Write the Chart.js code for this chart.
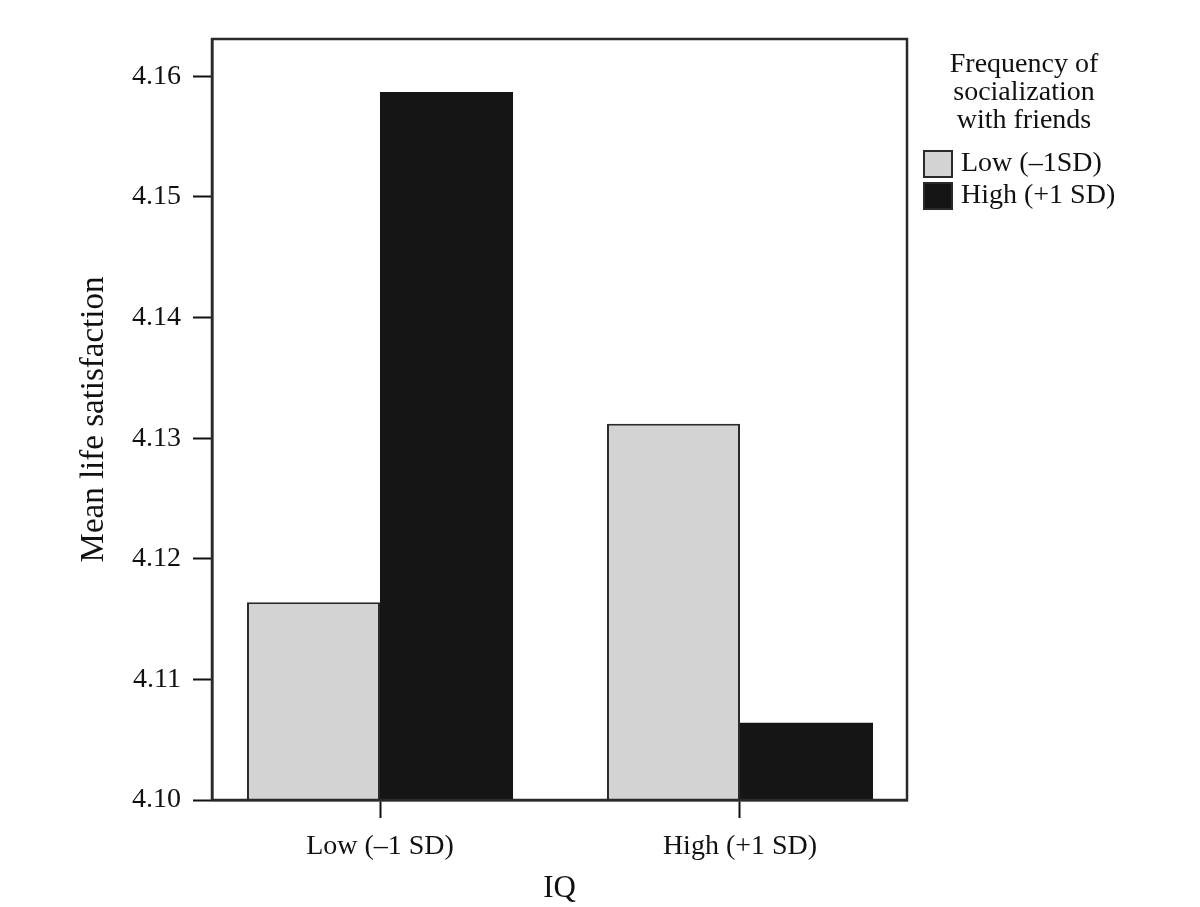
<!DOCTYPE html>
<html>
<head>
<meta charset="utf-8">
<script src="https://cdn.jsdelivr.net/npm/chart.js@4"></script>
<style>
  html, body { margin: 0; padding: 0; background: #fff; }
  #wrap { width: 1200px; height: 907px; }
</style>
</head>
<body>
<div id="wrap"><canvas id="c" width="1200" height="907"></canvas></div>
<script>
// ---- data ----
const categories = ['Low (–1 SD)', 'High (+1 SD)'];
const seriesNames = ['Low (–1SD)', 'High (+1 SD)'];
const lowSocial = [4.1164, 4.1312];
const highSocial = [4.1587, 4.1064];
const yTicks = [4.10, 4.11, 4.12, 4.13, 4.14, 4.15, 4.16];
const legendTitle = ['Frequency of', 'socialization', 'with friends'];
const xTitle = 'IQ';
const yTitle = 'Mean life satisfaction';

const FONT = "'Liberation Serif', 'Times New Roman', serif";
const FS = 28;
const INK = '#111111';

const toPts = arr => arr.map((v, i) => ({ x: i, y: v }));

const frame = {
  id: 'frame',
  afterDatasetsDraw(chart) {
    const { ctx, chartArea: a } = chart;
    ctx.save();
    ctx.strokeStyle = '#2a2a2a';
    ctx.lineWidth = 2.5;
    ctx.strokeRect(a.left, a.top, a.right - a.left, a.bottom - a.top);
    ctx.restore();
  }
};

const customLegend = {
  id: 'customLegend',
  afterDraw(chart) {
    const { ctx } = chart;
    ctx.save();
    ctx.font = FS + 'px ' + FONT;
    ctx.fillStyle = INK;
    ctx.textAlign = 'center';
    ctx.textBaseline = 'middle';
    const cx = 1024, ty0 = 65, lh = 28;
    legendTitle.forEach((t, i) => ctx.fillText(t, cx, ty0 + i * lh));
    const bx = 924, bw = 28, bh = 26;
    const by0 = 151, bgap = 32;
    chart.data.datasets.forEach((ds, i) => {
      const y = by0 + i * bgap;
      ctx.fillStyle = ds.backgroundColor;
      ctx.fillRect(bx, y, bw, bh);
      ctx.strokeStyle = '#2a2a2a';
      ctx.lineWidth = 2;
      ctx.strokeRect(bx, y, bw, bh);
      ctx.fillStyle = INK;
      ctx.textAlign = 'left';
      ctx.fillText(ds.label, 961, y + bh / 2);
    });
    ctx.restore();
  }
};

new Chart(document.getElementById('c'), {
  type: 'bar',
  data: {
    datasets: [
      { label: seriesNames[0], data: toPts(lowSocial), backgroundColor: '#d3d3d3', borderColor: '#2a2a2a', borderWidth: 2 },
      { label: seriesNames[1], data: toPts(highSocial), backgroundColor: '#151515', borderColor: '#151515', borderWidth: 0 }
    ]
  },
  options: {
    responsive: false,
    animation: false,
    devicePixelRatio: 1,
    categoryPercentage: 0.739,
    barPercentage: 1.0,
    layout: { padding: { top: 39, right: 293, left: 0, bottom: 0 } },
    plugins: { legend: { display: false }, tooltip: { enabled: false } },
    scales: {
      x: {
        type: 'linear',
        offset: false,
        min: -0.4667,
        max: 1.4639,
        afterBuildTicks: s => { s.ticks = categories.map((c, i) => ({ value: i })); },
        afterFit: s => { s.height = 107; },
        ticks: {
          callback: v => categories[v],
          font: { family: FONT, size: FS },
          color: INK,
          padding: 12,
          maxRotation: 0,
          autoSkip: false
        },
        grid: { offset: false, drawOnChartArea: false, drawTicks: true, tickLength: 18, tickColor: INK, tickWidth: 2 },
        border: { display: true, color: INK, width: 2.5 },
        title: { display: true, text: xTitle, font: { family: FONT, size: 31 }, color: INK, padding: { top: 0, bottom: 0 } }
      },
      y: {
        min: 4.10,
        max: 4.1631,
        afterBuildTicks: s => { s.ticks = yTicks.map(v => ({ value: v })); },
        afterFit: s => { s.width = 212; },
        ticks: {
          callback: v => Number(v).toFixed(2),
          font: { family: FONT, size: FS },
          color: INK,
          padding: 12
        },
        grid: { drawOnChartArea: false, drawTicks: true, tickLength: 19, tickColor: INK, tickWidth: 2 },
        border: { display: true, color: INK, width: 2.5 },
        title: { display: true, text: yTitle, font: { family: FONT, size: 33 }, color: INK, padding: { top: 75, bottom: 0 } }
      }
    }
  },
  plugins: [frame, customLegend]
});
</script>
</body>
</html>
